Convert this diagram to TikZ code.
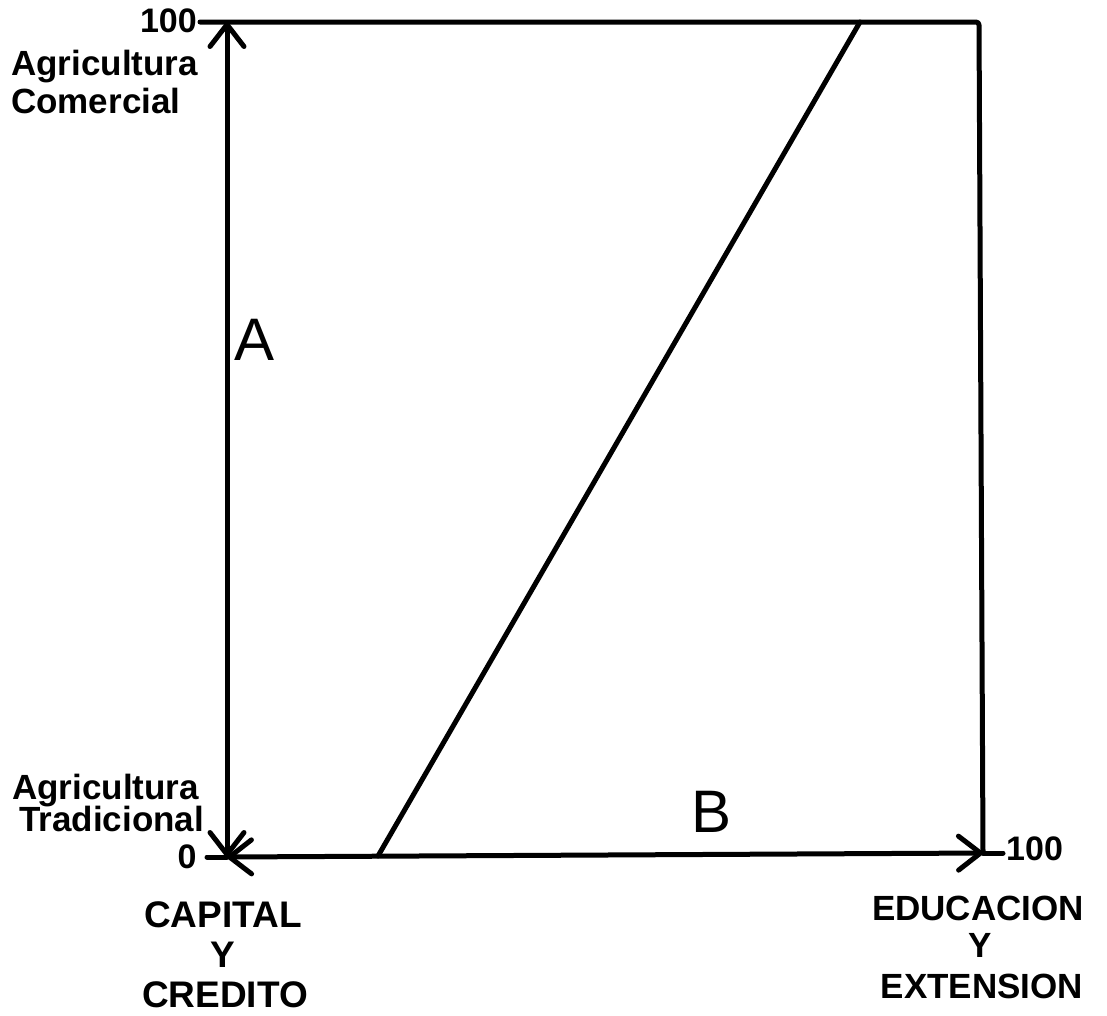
\documentclass[tikz,border=0pt]{standalone}
\usepackage{fontspec}
\setmainfont{Liberation Sans}
\usetikzlibrary{arrows.meta}
\tikzset{barb/.tip={Straight Barb[length=22pt,width=34pt,line cap=round,line join=round]}}
\begin{document}
\begin{tikzpicture}[x=1pt,y=-1pt,
  axis/.style={line width=5pt, line cap=round, line join=round},
  lbl/.style={inner sep=0pt, anchor=base west, font=\bfseries\fontsize{35}{40}\selectfont},
  capl/.style={inner sep=0pt, anchor=base, font=\bfseries\fontsize{37}{40}\selectfont},
  capr/.style={inner sep=0pt, anchor=base, font=\bfseries\fontsize{35}{40}\selectfont},
  num/.style={inner sep=0pt, font=\bfseries\fontsize{34}{38}\selectfont},
  big/.style={inner sep=0pt, font=\fontsize{60}{70}\selectfont}]
\useasboundingbox (0,0) rectangle (1107,1015);
% frame points
\coordinate (O) at (227,857);
\coordinate (T) at (227,22);
\coordinate (R) at (983,853);
\coordinate (TR) at (979,22);
\coordinate (TL) at (200,22);
\coordinate (OL) at (207,857);
\coordinate (RR) at (1003,853);
\coordinate (D0) at (378,856);
\coordinate (D1) at (860,22);
% lines
\draw[axis, rounded corners=3pt] (TL) -- (TR) -- (R);
\draw[axis] (OL) -- (O);
\draw[axis] (R) -- (RR);
\draw[axis, barb-barb] (O) -- (T);
\draw[axis, barb-barb] (O) -- (R);
\draw[axis] (D0) -- (D1);
% labels
\node[num, anchor=east] (n100t) at (197,21) {100};
\node[num, anchor=west] (n100r) at (1006,849) {100};
\node[num] (n0) at (187,857) {0};
\node[lbl] (agc1) at (11,75) {Agricultura};
\node[lbl] (agc2) at (11,113) {Comercial};
\node[lbl] (agt1) at (12,799) {Agricultura};
\node[lbl] (agt2) at (19,831) {Tradicional};
\node[capl] (cap1) at (223,927) {CAPITAL};
\node[capl] (cap2) at (223,967) {Y};
\node[capl] (cap3) at (225,1007) {CREDITO};
\node[capr] (edu1) at (978,920) {EDUCACION};
\node[capr] (edu2) at (980,957) {Y};
\node[capr] (edu3) at (982,998) {EXTENSION};
\node[big] (lA) at (255,340) {A};
\node[big] (lB) at (711,812) {B};
\end{tikzpicture}
\end{document}
